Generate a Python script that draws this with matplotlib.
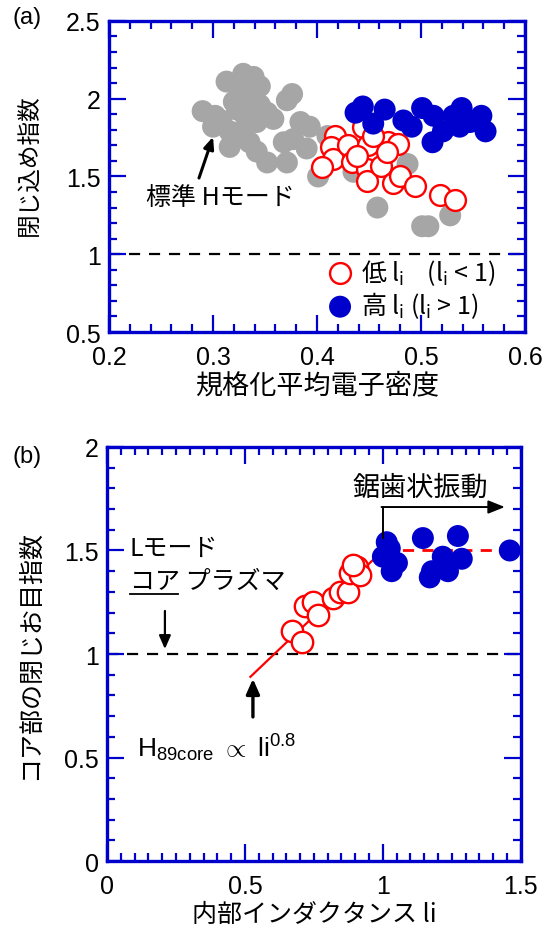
import matplotlib
matplotlib.use("Agg")
import matplotlib.pyplot as plt
from matplotlib.ticker import MultipleLocator

plt.rcParams['font.family'] = ['Liberation Sans', 'Noto Sans CJK JP', 'DejaVu Sans']
plt.rcParams['mathtext.fontset'] = 'custom'
plt.rcParams['mathtext.rm'] = 'Liberation Sans'
plt.rcParams['mathtext.it'] = 'Liberation Sans'

# ---------------- data panel (a) ----------------
gray_x = [0.290, 0.302, 0.313, 0.329, 0.339, 0.345, 0.326, 0.352, 0.300, 0.316, 0.342,
          0.352, 0.371, 0.368, 0.377, 0.376, 0.371, 0.384, 0.393, 0.390, 0.401, 0.410,
          0.458, 0.487, 0.501, 0.507, 0.528, 0.438, 0.336, 0.323, 0.342, 0.329, 0.316,
          0.358, 0.332, 0.435, 0.345, 0.320, 0.335, 0.308]
gray_y = [1.92, 1.89, 2.11, 2.16, 2.14, 2.08, 2.06, 1.91, 1.82, 1.69, 1.66,
          1.59, 1.59, 1.72, 1.74, 2.03, 1.99, 1.85, 1.82, 1.68, 1.50, 1.76,
          1.30, 1.58, 1.18, 1.18, 1.25, 1.55, 2.00, 1.93, 1.85, 1.79, 1.79,
          1.87, 1.87, 1.53, 1.96, 1.98, 1.72, 1.86]
low_x = [0.417, 0.413, 0.415, 0.405, 0.430, 0.434, 0.444, 0.449, 0.448, 0.448, 0.461,
         0.468, 0.478, 0.467, 0.473, 0.480, 0.494, 0.518, 0.533, 0.454, 0.438]
low_y = [1.76, 1.69, 1.61, 1.56, 1.70, 1.59, 1.82, 1.70, 1.55, 1.47, 1.57,
         1.72, 1.71, 1.66, 1.46, 1.50, 1.44, 1.38, 1.35, 1.76, 1.63]
high_x = [0.437, 0.444, 0.454, 0.465, 0.483, 0.491, 0.501, 0.512, 0.511, 0.521,
          0.531, 0.539, 0.537, 0.547, 0.558, 0.562]
high_y = [1.91, 1.95, 1.84, 1.93, 1.86, 1.82, 1.94, 1.89, 1.72, 1.79,
          1.89, 1.94, 1.82, 1.85, 1.89, 1.79]

# ---------------- data panel (b) ----------------
b_low_x = [0.670, 0.706, 0.717, 0.747, 0.765, 0.819, 0.844, 0.873, 0.880, 0.906, 0.917, 0.891]
b_low_y = [1.11, 1.06, 1.23, 1.25, 1.19, 1.27, 1.30, 1.30, 1.39, 1.42, 1.38, 1.43]
b_high_x = [1.014, 1.025, 1.000, 1.051, 1.032, 1.020, 1.145, 1.272, 1.217, 1.286, 1.178, 1.236, 1.170, 1.460]
b_high_y = [1.54, 1.51, 1.47, 1.44, 1.40, 1.49, 1.56, 1.57, 1.47, 1.46, 1.40, 1.40, 1.37, 1.50]
fit_x = [0.52, 1.0]
fit_y = [0.89, 1.50]
sat_x = [1.0, 1.5]
sat_y = [1.50, 1.50]

BLUE = '#0000cc'
RED = '#ff0000'
GRAY = '#a6a6a6'
CJK = ['Noto Sans CJK JP', 'Liberation Sans']

fig = plt.figure(figsize=(5.54, 9.37), dpi=100)
axa = fig.add_axes([0.1968, 0.6446, 0.751, 0.332])
axb = fig.add_axes([0.1931, 0.0800, 0.747, 0.4419])


def style(ax, xmaj, xmin, ymaj, ymin):
    for s in ax.spines.values():
        s.set_color(BLUE)
        s.set_linewidth(2.4)
    ax.xaxis.set_major_locator(MultipleLocator(xmaj))
    ax.xaxis.set_minor_locator(MultipleLocator(xmin))
    ax.yaxis.set_major_locator(MultipleLocator(ymaj))
    ax.yaxis.set_minor_locator(MultipleLocator(ymin))
    ax.tick_params(which='both', direction='in', top=True, right=True, color=BLUE,
                   width=1.6, labelsize=18)
    ax.tick_params(which='major', length=12)
    ax.tick_params(which='minor', length=6)
    ax.tick_params(axis='x', which='major', pad=9)
    ax.tick_params(axis='y', which='major', pad=6)


ms = 250
# ---- panel (a)
axa.scatter(gray_x, gray_y, s=ms, color=GRAY, edgecolors='none', zorder=2)
axa.scatter(low_x, low_y, s=ms * 0.9, facecolors='white', edgecolors=RED, linewidths=1.7, zorder=3)
axa.scatter(high_x, high_y, s=ms, color=BLUE, edgecolors='none', zorder=4)
axa.axhline(1.0, color='black', linestyle=(0, (5, 4)), linewidth=1.6, zorder=1)
axa.set_xlim(0.2, 0.6)
axa.set_ylim(0.5, 2.5)
style(axa, 0.1, 0.02, 0.5, 0.1)
axa.set_xticks([0.2, 0.3, 0.4, 0.5, 0.6])
axa.set_xticklabels(['0.2', '0.3', '0.4', '0.5', '0.6'])
axa.set_yticks([0.5, 1, 1.5, 2, 2.5])
axa.set_yticklabels(['0.5', '1', '1.5', '2', '2.5'])
axa.set_xlabel('規格化平均電子密度', fontsize=19.5, family=CJK, va='top')
axa.xaxis.set_label_coords(0.5, -0.128)
axa.set_ylabel('閉じ込め指数', fontsize=17, family=CJK, va='center')
axa.yaxis.set_label_coords(-0.19, 0.54)

axa.annotate('', xy=(0.300, 1.755), xytext=(0.2865, 1.49),
             arrowprops=dict(arrowstyle='-|>,head_length=0.7,head_width=0.3', color='black', lw=2.2,
                             shrinkA=0, shrinkB=0))
axa.text(0.236, 1.37, '標準 Hモード', fontsize=18, family=CJK, va='center', ha='left')

# legend
leg_h = [axa.scatter([], [], s=ms * 0.9, facecolors='white', edgecolors=RED, linewidths=1.7),
         axa.scatter([], [], s=ms, color=BLUE, edgecolors='none')]
leg = axa.legend(leg_h, ['低 l$_\\mathregular{i}$    (l$_\\mathregular{i}$ < 1)',
                         '高 l$_\\mathregular{i}$ (l$_\\mathregular{i}$ > 1)'],
                 loc='lower right', bbox_to_anchor=(0.935, 0.03), frameon=False,
                 handlelength=1.0, handletextpad=0.35, labelspacing=0.1, borderaxespad=0.0,
                 borderpad=0.1, prop={'family': 'Noto Sans CJK JP', 'size': 18})

# ---- panel (b)
axb.plot(fit_x, fit_y, color=RED, linewidth=1.6, zorder=2)
axb.plot(sat_x, sat_y, color=RED, linewidth=2.0, linestyle=(0, (4, 3)), zorder=2)
axb.scatter(b_low_x, b_low_y, s=ms * 0.95, facecolors='white', edgecolors=RED, linewidths=1.7, zorder=3)
axb.scatter(b_high_x, b_high_y, s=ms, color=BLUE, edgecolors='none', zorder=4)
axb.axhline(1.0, color='black', linestyle=(0, (5, 4)), linewidth=1.6, zorder=1)
axb.set_xlim(0, 1.5)
axb.set_ylim(0, 2)
style(axb, 0.5, 0.05, 0.5, 0.1)
axb.set_xticks([0, 0.5, 1, 1.5])
axb.set_xticklabels(['0', '0.5', '1', '1.5'])
axb.set_yticks([0, 0.5, 1, 1.5, 2])
axb.set_yticklabels(['0', '0.5', '1', '1.5', '2'])
axb.set_xlabel('内部インダクタンス li', fontsize=18, family=CJK, va='top')
axb.xaxis.set_label_coords(0.5, -0.097)
axb.set_ylabel('コア部の閉じお目指数', fontsize=18, family=CJK, va='center')
axb.yaxis.set_label_coords(-0.186, 0.5)

# sawtooth annotation
axb.plot([1.0, 1.0], [1.56, 1.71], color='black', linewidth=1.4, zorder=5)
axb.annotate('', xy=(1.442, 1.71), xytext=(0.995, 1.71),
             arrowprops=dict(arrowstyle='-|>,head_length=1.0,head_width=0.4', color='black', lw=1.4,
                             shrinkA=0, shrinkB=0))
axb.text(0.89, 1.807, '鋸歯状振動', fontsize=19.5, family=CJK, va='center', ha='left')

axb.text(0.083, 1.512, 'Lモード', fontsize=18, family=CJK, va='center', ha='left')
axb.text(0.083, 1.353, 'コア プラズマ', fontsize=18, family=CJK, va='center', ha='left')
axb.plot([0.083, 0.257], [1.29, 1.29], color='black', linewidth=1.3)
axb.annotate('', xy=(0.21, 1.024), xytext=(0.21, 1.208),
             arrowprops=dict(arrowstyle='-|>,head_length=0.8,head_width=0.35', color='black', lw=1.6,
                             shrinkA=0, shrinkB=0))

axb.annotate('', xy=(0.529, 0.88), xytext=(0.529, 0.696),
             arrowprops=dict(arrowstyle='-|>,head_length=0.9,head_width=0.4', color='black', lw=2.4,
                             shrinkA=0, shrinkB=0))
axb.text(0.109, 0.55, 'H$_{\\mathregular{89core}}$ $\\propto$ li$^{\\mathregular{0.8}}$', fontsize=19,
         family='Liberation Sans', va='center', ha='left')

fig.text(0.022, 0.981, '(a)', fontsize=17, va='center', ha='left')
fig.text(0.022, 0.512, '(b)', fontsize=17, va='center', ha='left')

fig.savefig('out.png', dpi=100)
